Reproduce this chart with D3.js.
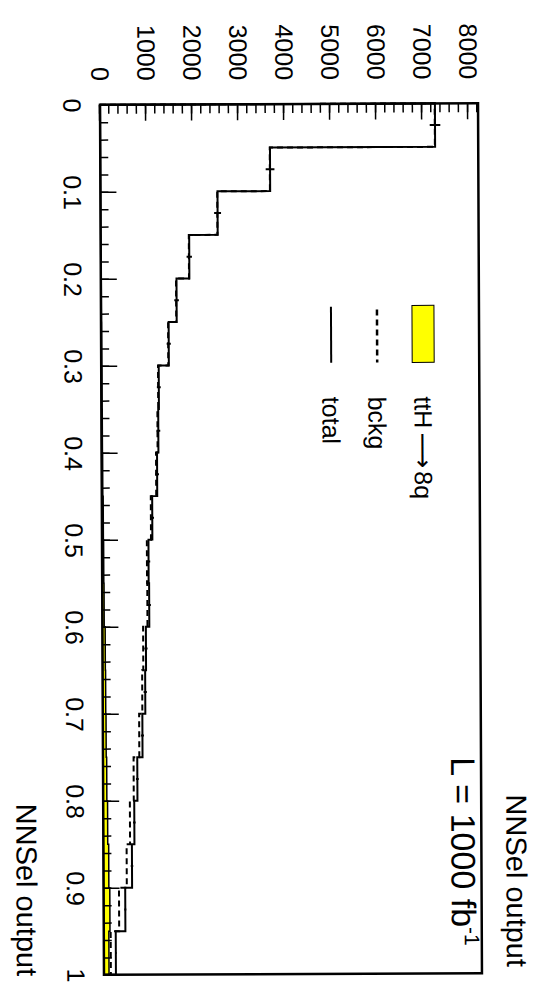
<!DOCTYPE html>
<html>
<head>
<meta charset="utf-8">
<style>
  body { margin: 0; padding: 0; background: #fff; }
  svg { display: block; }
  text { font-family: 'Liberation Sans', Arial, sans-serif; fill: #000; }
</style>
</head>
<body>
<div id="chart"></div>
<script src="https://d3js.org/d3.v7.min.js"></script>
<script>
// NNSel output bins (low edges), bin width 0.05
var binLow = [0, 0.05, 0.1, 0.15, 0.2, 0.25, 0.3, 0.35, 0.4, 0.45,
              0.5, 0.55, 0.6, 0.65, 0.7, 0.75, 0.8, 0.85, 0.9, 0.95];
var binWidth = 0.05;

// ttH -> 8q signal, background, error on total
var signal = [5, 5, 6, 8, 10, 12, 15, 18, 22, 30,
              35, 40, 60, 65, 70, 80, 95, 115, 135, 110];
var bckg = [7275, 3685, 2539, 1917, 1635, 1458, 1235, 1217, 1183, 1065,
            975, 980, 885, 860, 790, 665, 580, 505, 335, 150];
var totalErr = [115, 95, 75, 58, 50, 45, 42, 42, 40, 38,
                36, 36, 35, 35, 33, 30, 28, 27, 22, 16];

var nnTicks = [0, 0.1, 0.2, 0.3, 0.4, 0.5, 0.6, 0.7, 0.8, 0.9, 1];
var nnLabels = ["0", "0.1", "0.2", "0.3", "0.4", "0.5", "0.6", "0.7", "0.8", "0.9", "1"];
var countTicks = [0, 1000, 2000, 3000, 4000, 5000, 6000, 7000, 8000];

var legendItems = ["ttH", "bckg", "total"];

var total = signal.map((s, i) => s + bckg[i]);

// the chart is drawn the normal way (989 x 541) and then turned a quarter clockwise
var svg = d3.select("#chart").append("svg")
    .attr("width", 541)
    .attr("height", 989);

var g = svg.append("g")
    .attr("transform", "rotate(-0.26,290,540) translate(541,0) rotate(90)");

var x = d3.scaleLinear().domain([0, 1]).range([104, 974]),
    y = d3.scaleLinear().domain([0, 8217]).range([439, 61]);

function stepPoints(vals) {
  var pts = [[0, 0]];
  vals.forEach((v, i) => {
    pts.push([binLow[i], v]);
    pts.push([binLow[i] + binWidth, v]);
  });
  pts.push([1, 0]);
  return pts;
}

var line = d3.line().x(d => x(d[0])).y(d => y(d[1]));
var area = d3.area().x(d => x(d[0])).y0(y(0)).y1(d => y(d[1]));

// signal, yellow filled
g.append("path")
  .datum(stepPoints(signal))
  .attr("fill", "#ffff00")
  .attr("stroke", "#000")
  .attr("stroke-width", 1.5)
  .attr("d", area);

// background, dashed
g.append("path")
  .datum(stepPoints(bckg))
  .attr("fill", "none")
  .attr("stroke", "#000")
  .attr("stroke-width", 2)
  .attr("stroke-dasharray", "6,4")
  .attr("d", line);

// total, solid
g.append("path")
  .datum(stepPoints(total))
  .attr("fill", "none")
  .attr("stroke", "#000")
  .attr("stroke-width", 2)
  .attr("d", line);

g.selectAll(".err")
  .data(total)
  .enter().append("line")
    .attr("class", "err")
    .attr("x1", (d, i) => x(binLow[i] + binWidth / 2))
    .attr("x2", (d, i) => x(binLow[i] + binWidth / 2))
    .attr("y1", (d, i) => y(d - totalErr[i]))
    .attr("y2", (d, i) => y(d + totalErr[i]))
    .attr("stroke", "#000")
    .attr("stroke-width", 2);

// axes
var minorNN = d3.range(0, 51).map(i => i / 50);
var minorCount = d3.range(0, 42).map(i => i * 200);

g.append("g")
  .attr("transform", "translate(0," + y(0) + ")")
  .call(d3.axisBottom(x).tickValues(minorNN).tickSize(-8).tickFormat(""))
  .call(a => a.select(".domain").remove());

var xAxis = g.append("g")
  .attr("transform", "translate(0," + y(0) + ")")
  .call(d3.axisBottom(x).tickValues(nnTicks).tickSize(-16).tickPadding(19)
        .tickFormat((d, i) => nnLabels[i]));
xAxis.select(".domain").remove();
xAxis.selectAll("text").attr("font-size", 25).attr("font-family", "'Liberation Sans', Arial, sans-serif");

g.append("g")
  .attr("transform", "translate(" + x(0) + ",0)")
  .call(d3.axisLeft(y).tickValues(minorCount).tickSize(-9).tickFormat(""))
  .call(a => a.select(".domain").remove());

var yAxis = g.append("g")
  .attr("transform", "translate(" + x(0) + ",0)")
  .call(d3.axisLeft(y).tickValues(countTicks).tickSize(-16).tickPadding(24)
        .tickFormat(d3.format("d")));
yAxis.select(".domain").remove();
yAxis.selectAll("text").attr("font-size", 25).attr("font-family", "'Liberation Sans', Arial, sans-serif");

g.selectAll(".tick line").attr("stroke", "#000").attr("stroke-width", 1.5);

// frame
g.append("rect")
  .attr("x", x(0))
  .attr("y", y(8217))
  .attr("width", x(1) - x(0))
  .attr("height", y(0) - y(8217))
  .attr("fill", "none")
  .attr("stroke", "#000")
  .attr("stroke-width", 2.5);

// titles
g.append("text")
  .attr("x", 975).attr("y", 526)
  .attr("text-anchor", "end")
  .attr("font-size", 29)
  .text("NNSel output");

g.append("text")
  .attr("x", 968).attr("y", 36)
  .attr("text-anchor", "end")
  .attr("font-size", 29)
  .text("NNSel output");

var lumi = g.append("text")
  .attr("x", 758).attr("y", 91)
  .attr("font-size", 34);
lumi.append("tspan").text("L = 1000 fb");
lumi.append("tspan").attr("dy", -13).attr("font-size", 21).text("-1");

// legend
var legend = g.append("g")
  .selectAll("g")
  .data(legendItems)
  .enter().append("g")
    .attr("transform", (d, i) => "translate(0," + (117 + i * 46) + ")");

legend.filter((d, i) => i === 0).append("rect")
  .attr("x", 306).attr("y", -11)
  .attr("width", 57).attr("height", 22)
  .attr("fill", "#ffff00")
  .attr("stroke", "#000")
  .attr("stroke-width", 1);

legend.filter((d, i) => i === 1).append("line")
  .attr("x1", 310).attr("x2", 363)
  .attr("stroke", "#000").attr("stroke-width", 2.5)
  .attr("stroke-dasharray", "6,4");

legend.filter((d, i) => i === 2).append("line")
  .attr("x1", 307).attr("x2", 363)
  .attr("stroke", "#000").attr("stroke-width", 2);

var legendText = legend.append("text")
  .attr("x", 397).attr("y", 9)
  .attr("font-size", 25)
  .text(d => d);

// long arrow and decay products for the signal entry
legendText.filter((d, i) => i === 0).append("tspan")
  .attr("font-family", "'DejaVu Sans', sans-serif")
  .attr("dx", 4)
  .text("\u27F6");
legendText.filter((d, i) => i === 0).append("tspan")
  .attr("dx", 3)
  .text("8q");
</script>
</body>
</html>
